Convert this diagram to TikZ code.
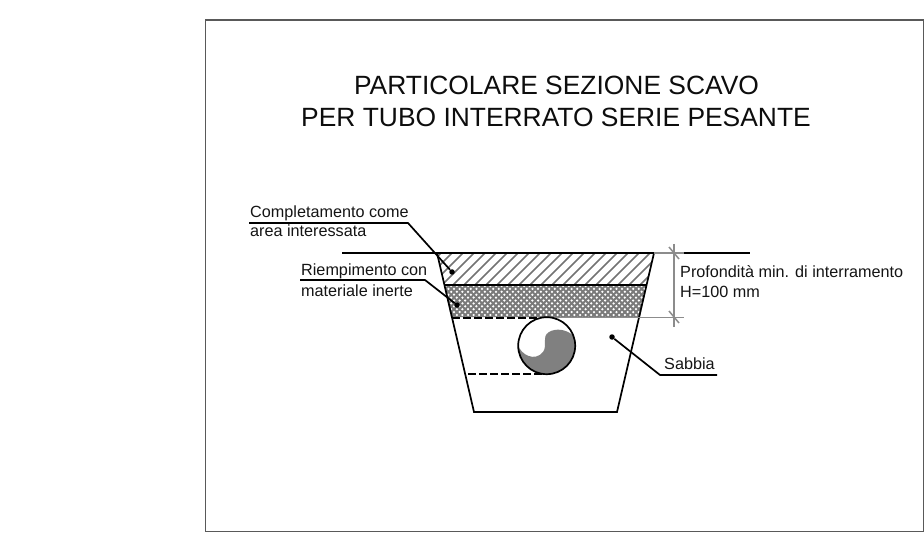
\documentclass[tikz,border=0pt]{standalone}
\usepackage{fontspec}
\setmainfont{Liberation Sans}
\definecolor{dimgray}{gray}{0.55}
\definecolor{fillgray}{gray}{0.5}
\tikzset{
 label/.style={inner sep=0pt,anchor=base west,font=\fontsize{16.2}{18}\selectfont,text=black!92},
 titletext/.style={inner sep=0pt,anchor=base,font=\fontsize{26.4}{30}\selectfont,text=black!95},
 heavy/.style={line width=1.7pt,black},
 dimline/.style={line width=1.5pt,dimgray},
 hatchline/.style={line width=1.5pt,black!55},
 dotend/.style={circle,fill=black,inner sep=0pt,minimum size=5.5pt},
}
\begin{document}
\begin{tikzpicture}[x=1pt,y=-1pt]
\useasboundingbox (0,0) rectangle (924,540);
\draw[line width=1.2pt,black!65] (205.5,20) -- (923.5,20) -- (923.5,531.5) -- (205.5,531.5) -- cycle;
\node[titletext] (t1) at (556.5,94.5) {PARTICOLARE SEZIONE SCAVO};
\node[titletext] (t2) at (556,127) {PER TUBO INTERRATO SERIE PESANTE};
% hatched layer
\begin{scope}
\clip (437,253) -- (654,253) -- (647,285) -- (444,285) -- cycle;
\foreach \i in {0,...,23} \draw[hatchline] ({404+\i*11},290) -- ({404+\i*11+40},250);
\end{scope}
% cross-hatched layer
\begin{scope}
\clip (444,285) -- (647,285) -- (640,317) -- (451,317) -- cycle;
\fill[black!52] (440,285) rectangle (650,318);
\foreach \i in {0,...,36} \foreach \j in {0,...,11}
  \fill[white] ({440+\i*5.6+mod(\j,2)*2.8},{286+\j*2.9}) circle (1.25pt);
\end{scope}
% trench
\coordinate (tl) at (437,253); \coordinate (tr) at (654,253);
\coordinate (bl) at (474,412); \coordinate (br) at (617,412);
\draw[heavy] (tl) -- (bl) -- (br) -- (tr);
\coordinate (gl) at (342,253); \coordinate (gr) at (684,253); \coordinate (ge) at (750,253);
\draw[heavy] (gl) -- (tr);
\draw[heavy] (gr) -- (ge);
\draw[heavy] (444,285) -- (647,285);
\draw[heavy,dash pattern=on 8pt off 3pt] (452,318) -- (540,318);
\draw[heavy,dash pattern=on 8pt off 3pt] (468,374) -- (546,374);
% dimensions
\draw[dimline] (tr) -- (gr);
\draw[dimline] (540,317.5) -- (684,317.5);
\draw[dimline] (674,244) -- (674,327);
\draw[dimline] (669,247) -- (679,259);
\draw[dimline] (669,311) -- (679,323);
% pipe
\coordinate (c) at (546.7,345.7);
\fill[white] (c) circle (28.5);
\begin{scope}
\clip (c) circle (28.5);
\fill[fillgray] (518,345) .. controls (521,355) and (535,362) .. (543,352)
  .. controls (548,345) and (541,337) .. (549,332) .. controls (556,328) and (566,329) .. (574,336)
  -- (580,380) -- (515,380) -- cycle;
\end{scope}
\draw[heavy] (c) circle (28.5);
% leaders
\node[dotend] (dA) at (452,272) {};
\node[dotend] (dB) at (457,305) {};
\node[dotend] (dC) at (612,337) {};
\coordinate (u1a) at (249,223); \coordinate (u1b) at (408,223);
\coordinate (u2a) at (300,280); \coordinate (u2b) at (425,280);
\coordinate (u3a) at (660,375); \coordinate (u3b) at (717,375);
\draw[heavy] (u1a) -- (u1b) -- (dA);
\draw[heavy] (u2a) -- (u2b) -- (dB);
\draw[heavy] (dC) -- (u3a) -- (u3b);
% labels
\node[label] (l1) at (250,218) {Completamento come};
\node[label] (l2) at (250,237) {area interessata};
\node[label] (l3) at (301,276) {Riempimento con};
\node[label] (l4) at (301,296) {materiale inerte};
\node[label] (l5) at (664,369) {Sabbia};
\node[label] (l6) at (680,278) {Profondità min. di interramento};
\node[label] (l7) at (680,298) {H=100 mm};
\end{tikzpicture}
\end{document}
